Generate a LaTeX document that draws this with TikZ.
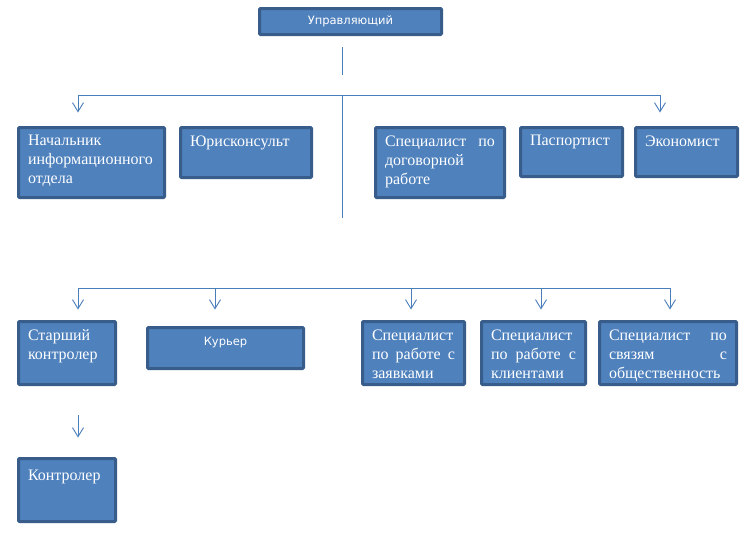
\documentclass[tikz,border=0pt]{standalone}
\usepackage{fontspec}
\setmainfont{Liberation Serif}
\newfontfamily\boxsans{DejaVu Sans}
\usetikzlibrary{arrows.meta}
\definecolor{boxfill}{HTML}{4F81BD}
\definecolor{boxline}{HTML}{385D8A}
\definecolor{linkline}{HTML}{4A7EBB}
\begin{document}
\begin{tikzpicture}[x=1pt,y=-1pt]
        \tikzstyle{post}=[draw=boxline, fill=boxfill, line width=3pt, rounded corners=1pt, text=white, anchor=north west, inner xsep=9.5pt, inner ysep=8pt, outer sep=0pt, font=\fontsize{16}{19}\selectfont]
        \tikzstyle{head}=[post, inner sep=0pt, font=\boxsans\fontsize{11.5}{13}\selectfont]
        \tikzstyle{link}=[draw=linkline, line width=0.9pt]
        \tikzstyle{down}=[link, -{Straight Barb[length=9pt,width=11pt]}]
        \useasboundingbox (0,0) rectangle (753,533);
        % top
        \node[head, minimum width=182pt, minimum height=26pt] (upr) at (259.5,8.5) {Управляющий};
        % first row
        \node[post] (nach) at (18.5,127.5) {\parbox[c][54pt][t]{127pt}{Начальник\\информационного\\отдела}};
        \node[post] (jur) at (180.5,127.5) {\parbox[c][34pt][t]{112pt}{Юрисконсульт}};
        \node[post] (spdog) at (375.5,127.5) {\parbox[c][54pt][t]{110pt}{Специалист\hfill по\\договорной\\работе}};
        \node[post] (pasp) at (520.5,127.5) {\parbox[c][33pt][t]{83pt}{Паспортист}};
        \node[post] (econ) at (635.5,127.5) {\parbox[c][33pt][t]{83pt}{Экономист}};
        % second row
        \node[post] (stk) at (18.5,321.5) {\parbox[c][47pt][t]{78pt}{Старший\\контролер}};
        \node[head, inner xsep=9.5pt, inner ysep=8pt] (kur) at (147.5,327.5) {\parbox[c][25pt][t]{137pt}{\centering\vspace*{2pt}Курьер}};
        \node[post] (spz) at (362.5,321.5) {\parbox[c][47pt][t]{83pt}{Специалист\\по\hfill работе\hfill с\\заявками}};
        \node[post] (spk) at (481.5,321.5) {\parbox[c][47pt][t]{85pt}{Специалист\\по\hfill работе\hfill с\\клиентами}};
        \node[post] (sps) at (599.5,321.5) {\parbox[c][47pt][t]{118pt}{Специалист\hfill по\\связям\hfill с\\общественность}};
        \node[post] (kontr) at (18.5,458.5) {\parbox[c][47pt][t]{78pt}{\vspace*{4pt}Контролер}};
        % bus points
        \coordinate (uprstub) at (342,47);
        \coordinate (uprstubend) at (342,75);
        \coordinate (busA) at (342,95);
        \coordinate (busAl) at (78,95);
        \coordinate (busAr) at (660,95);
        \coordinate (busAend) at (342,218);
        \coordinate (busBl) at (78,288);
        \coordinate (busBkur) at (215,288);
        \coordinate (busBspz) at (411,288);
        \coordinate (busBspk) at (541,288);
        \coordinate (busBr) at (670,288);
        \coordinate (stkdrop) at (78,415);
        % connectors
        \draw[link] (uprstub) -- (uprstubend);
        \draw[link] (busAl) -- (busAr);
        \draw[link] (busA) -- (busAend);
        \draw[down, shorten >=15pt] (busAl) -- (busAl |- nach.north);
        \draw[down, shorten >=15pt] (busAr) -- (busAr |- econ.north);
        \draw[link] (busBl) -- (busBr);
        \draw[down, shorten >=12pt] (busBl) -- (busBl |- stk.north);
        \draw[down, shorten >=18pt] (busBkur) -- (busBkur |- kur.north);
        \draw[down, shorten >=12pt] (busBspz) -- (busBspz |- spz.north);
        \draw[down, shorten >=12pt] (busBspk) -- (busBspk |- spk.north);
        \draw[down, shorten >=12pt] (busBr) -- (busBr |- sps.north);
        \draw[down, shorten >=21pt] (stkdrop) -- (stkdrop |- kontr.north);
\end{tikzpicture}
\end{document}
